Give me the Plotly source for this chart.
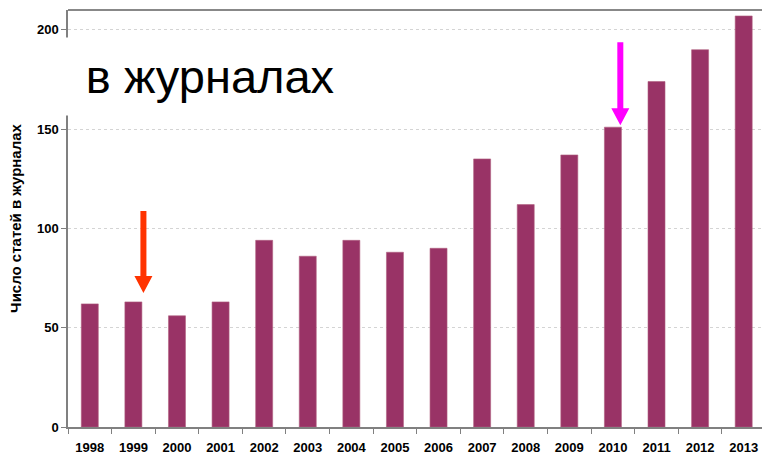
import plotly.graph_objects as go

years = ["1998", "1999", "2000", "2001", "2002", "2003", "2004", "2005",
         "2006", "2007", "2008", "2009", "2010", "2011", "2012", "2013"]
counts = [62, 63, 56, 63, 94, 86, 94, 88, 90, 135, 112, 137, 151, 174, 190, 207]
y_ticks = [0, 50, 100, 150, 200]
y_title = "Число статей в журналах"
label_text = "в журналах"

FONT = "Arial, Liberation Sans, sans-serif"

W, H = 763, 457
L, T, B, R = 68, 10, 30, 1
PW = W - L - R
PH = H - T - B

fig = go.Figure()
fig.add_trace(go.Bar(
    x=years, y=counts,
    marker=dict(color="#993366", line=dict(color="#b0607f", width=0.6)),
    width=0.39,
))

def arrow(xidx, ytip, color, length):
    path = (f"M -3,{length} L 3,{length} L 3,17 L 9,17 L 0,0 "
            f"L -9,17 L -3,17 Z")
    return dict(type="path", xref="x", yref="y",
                xsizemode="pixel", ysizemode="pixel",
                xanchor=xidx, yanchor=ytip, path=path,
                fillcolor=color, line=dict(width=0), layer="above")

fig.update_layout(
    width=W, height=H,
    margin=dict(l=L, r=R, t=T, b=B),
    paper_bgcolor="white", plot_bgcolor="white",
    showlegend=False,
    font=dict(family=FONT, color="black"),
    shapes=[
        arrow(1.23, 67.5, "#ff3300", 82),
        arrow(12.17, 152, "#ff00ff", 83),
        dict(type="line", xref="paper", yref="paper", x0=0, x1=1, y0=1, y1=1,
             line=dict(color="#606060", width=1.5)),
    ],
    annotations=[dict(
        text=label_text, xref="paper", yref="paper",
        x=-4 / PW, y=1 - 27 / PH,
        xanchor="left", yanchor="top",
        width=290, height=77, bgcolor="white", borderpad=0,
        showarrow=False, font=dict(size=47, color="black", family=FONT),
    )],
)

fig.update_xaxes(
    type="category", range=[-0.5, 15.42],
    showline=True, linecolor="#808080", linewidth=1.5,
    ticks="outside", ticklen=5, tickcolor="#808080", tickson="boundaries",
    tickfont=dict(size=13, family=FONT, color="black", weight="bold"),
    ticklabelstandoff=8,
    showgrid=False,
)
fig.update_yaxes(
    range=[0, 210], tickvals=y_ticks,
    showline=True, linecolor="#808080", linewidth=1.5,
    ticks="outside", ticklen=5, tickcolor="#808080",
    tickfont=dict(size=13, family=FONT, color="black", weight="bold"),
    showgrid=True, gridcolor="#d4d4d4", griddash="dot", gridwidth=1,
    zeroline=False,
    title=dict(text=y_title, font=dict(size=15, family=FONT, color="black", weight="bold"),
               standoff=12),
    automargin=False,
)

fig.write_html(
    "out.html",
    config={"displayModeBar": False},
    post_script="document.body.style.margin='0';"
                "document.documentElement.style.overflow='hidden';"
                "document.body.style.overflow='hidden';",
)
